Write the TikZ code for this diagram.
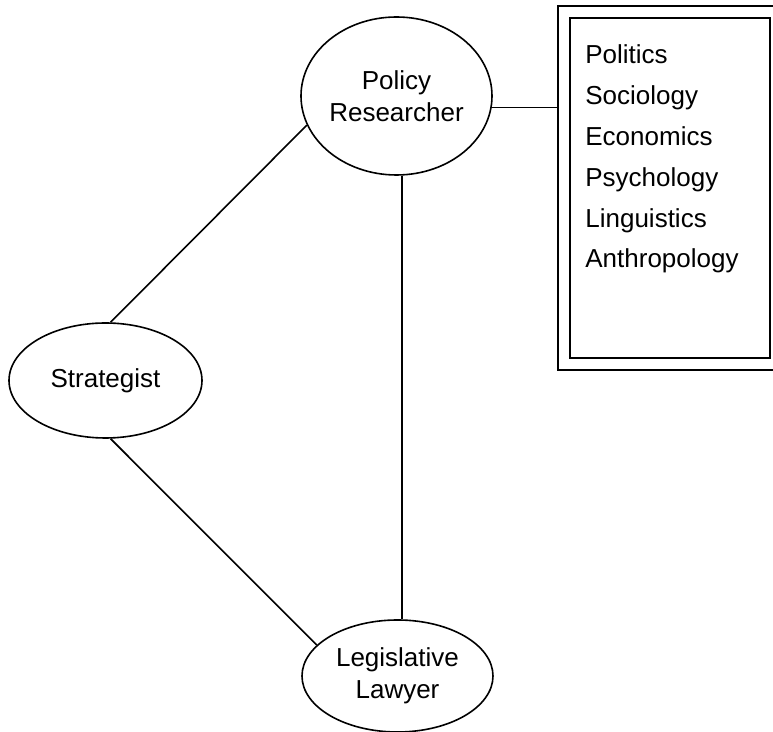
\documentclass[tikz,border=0pt]{standalone}
\usepackage{fontspec}
\setmainfont{Liberation Sans}
\usetikzlibrary{shapes.geometric}

\begin{document}
\begin{tikzpicture}[
  x=0.5pt, y=-0.5pt,
  every node/.style={font=\fontsize{13}{16}\selectfont},
  role/.style={ellipse, draw, line width=0.8pt, inner sep=0pt, align=center},
  topic/.style={anchor=base west, inner sep=0pt},
  link/.style={line width=0.8pt}
]
\useasboundingbox (0,0) rectangle (773,732);
\node[role, minimum width=95.5pt, minimum height=79pt] (pr) at (396.5,96) {Policy\\Researcher};
\node[role, minimum width=96.5pt, minimum height=57.5pt] (st) at (105.5,380.5) {Strategist};
\node[role, minimum width=95.5pt, minimum height=56pt] (ll) at (397.5,676) {Legislative\\Lawyer};
\node[draw, double, double distance=5.2pt, line width=0.8pt, outer sep=3.4pt,
      minimum width=106pt, minimum height=176pt, inner sep=0pt] (box) at (670,188) {};
\foreach \t [count=\i] in {Politics,Sociology,Economics,Psychology,Linguistics,Anthropology}
  \node[topic] (t\i) at ({585},{64+40.8*(\i-1)}) {\t};
\draw[link] (pr.198) -- (st.85);
\draw[link] (st.-85) -- (ll.159);
\draw[link] (pr.-86) -- (pr.-86 |- ll.north);
\draw[link] (pr.-7) -- (pr.-7 -| box.west);
\end{tikzpicture}
\end{document}
